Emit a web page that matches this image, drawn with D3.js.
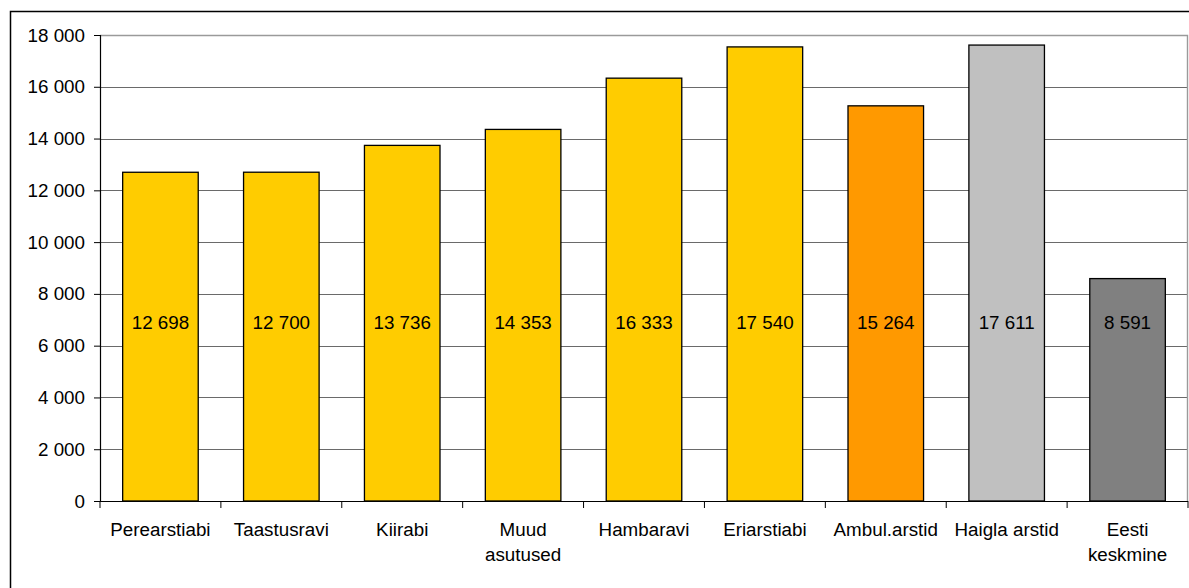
<!DOCTYPE html>
<html>
<head>
<meta charset="utf-8">
<script src="https://cdn.jsdelivr.net/npm/d3@7"></script>
<style>
  html, body { margin: 0; padding: 0; background: #fff; overflow: hidden; }
  svg { display: block; }
  text { font-family: "Liberation Sans", Arial, sans-serif; fill: #000; }
</style>
</head>
<body>
<svg id="chart" width="1189" height="588"></svg>
<script>
// Average monthly wage by health-care field (EEK)
const categories = ["Perearstiabi", "Taastusravi", "Kiirabi", "Muud asutused", "Hambaravi",
                    "Eriarstiabi", "Ambul.arstid", "Haigla arstid", "Eesti keskmine"];
const values = [12698, 12700, 13736, 14353, 16333, 17540, 15264, 17611, 8591];
const barColors = ["#FFCC00", "#FFCC00", "#FFCC00", "#FFCC00", "#FFCC00",
                   "#FFCC00", "#FF9900", "#C0C0C0", "#808080"];
const yTicks = [0, 2000, 4000, 6000, 8000, 10000, 12000, 14000, 16000, 18000];

const fontSize = 18.8;
const svg = d3.select("#chart");

// Outer chart frame: left and top edges (the rest runs off the canvas)
svg.append("path")
  .attr("d", "M10.5,588V11.5H1189")
  .attr("fill", "none").attr("stroke", "#000").attr("stroke-width", 1.5);

const plot = { left: 100, top: 35, right: 1188, bottom: 501 };

const x = d3.scaleBand()
  .domain(categories)
  .range([plot.left, plot.right])
  .paddingInner(0.375)
  .paddingOuter(0.1875);

const y = d3.scaleLinear()
  .domain([0, 18000])
  .range([plot.bottom, plot.top]);

const fmt = v => d3.format(",")(v).replace(/,/g, " ");

// Horizontal gridlines
svg.append("g")
  .selectAll("line")
  .data(yTicks.filter(t => t > 0 && t < 18000))
  .join("line")
  .attr("x1", plot.left).attr("x2", plot.right)
  .attr("y1", d => Math.round(y(d)) + 0.5).attr("y2", d => Math.round(y(d)) + 0.5)
  .attr("stroke", "#6a6a6a").attr("stroke-width", 1);

// Plot-area border on top and right
svg.append("path")
  .attr("d", `M${plot.left},${plot.top + 0.5}H${plot.right - 0.5}V${plot.bottom}`)
  .attr("fill", "none").attr("stroke", "#9a9a9a").attr("stroke-width", 1.4);

// Bars
svg.append("g")
  .selectAll("rect")
  .data(values)
  .join("rect")
  .attr("x", (d, i) => x(categories[i]))
  .attr("y", d => y(d))
  .attr("width", x.bandwidth())
  .attr("height", d => y(0) - y(d))
  .attr("fill", (d, i) => barColors[i])
  .attr("stroke", "#000").attr("stroke-width", 1.3);

// Value labels inside the bars, on a common line
const labelLevel = 6900;
svg.append("g")
  .selectAll("text")
  .data(values)
  .join("text")
  .attr("x", (d, i) => x(categories[i]) + x.bandwidth() / 2)
  .attr("y", y(labelLevel))
  .attr("dy", "0.35em")
  .attr("text-anchor", "middle")
  .style("font-size", fontSize + "px")
  .text(d => fmt(d));

// Y axis
const yAxis = svg.append("g")
  .attr("transform", `translate(${plot.left},0)`)
  .call(d3.axisLeft(y).tickValues(yTicks).tickSize(6).tickPadding(9).tickFormat(fmt));
yAxis.select(".domain").attr("stroke", "#000").attr("stroke-width", 1.2);
yAxis.selectAll(".tick line").attr("stroke", "#000");
yAxis.selectAll(".tick text")
  .style("font-size", fontSize + "px")
  .style("font-family", '"Liberation Sans", Arial, sans-serif')
  .attr("fill", "#000");

// X axis: ticks between categories
const step = x.step();
const xAxis = svg.append("g")
  .attr("transform", `translate(0,${plot.bottom})`);
xAxis.append("line")
  .attr("x1", plot.left).attr("x2", plot.right)
  .attr("y1", 0.5).attr("y2", 0.5)
  .attr("stroke", "#000").attr("stroke-width", 1.2);
xAxis.selectAll("line.tick")
  .data(d3.range(categories.length + 1))
  .join("line")
  .attr("class", "tick")
  .attr("x1", i => plot.left + i * step).attr("x2", i => plot.left + i * step)
  .attr("y1", 0).attr("y2", 7)
  .attr("stroke", "#000");

// Category labels, wrapped to the band width
const catText = xAxis.selectAll("text")
  .data(categories)
  .join("text")
  .attr("text-anchor", "middle")
  .attr("x", d => x(d) + x.bandwidth() / 2)
  .attr("y", 35)
  .style("font-size", fontSize + "px");

catText.each(function (d) {
  const t = d3.select(this);
  const cx = +t.attr("x");
  t.text(d);
  if (this.getComputedTextLength() > step - 4) {
    const words = d.split(" ");
    t.text(null);
    words.forEach((w, k) => {
      t.append("tspan").attr("x", cx).attr("dy", k === 0 ? 0 : 24.5).text(w);
    });
  }
});
</script>
</body>
</html>
